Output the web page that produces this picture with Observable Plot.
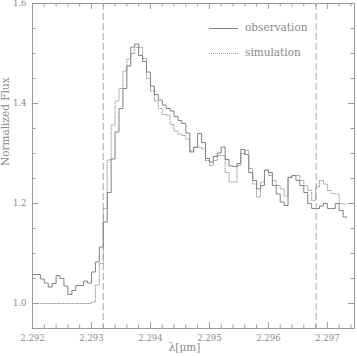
<!DOCTYPE html>
<html>
<head>
<meta charset="utf-8">
<script src="https://cdn.jsdelivr.net/npm/d3@7"></script>
<script src="https://cdn.jsdelivr.net/npm/@observablehq/plot@0.6"></script>
<style>
  html, body { margin: 0; padding: 0; background: #fff; }
  #wrap { position: relative; width: 357px; height: 356px; font-family: "DejaVu Serif", serif; color: #888; }
  .leg { position: absolute; font-size: 10.5px; line-height: 12px; white-space: nowrap; }
  .legline { position: absolute; width: 29px; height: 0; }
</style>
</head>
<body>
<div id="wrap"></div>
<script>
// Bin edges (wavelength, micron)
const lamEdges = [
  2.292000, 2.292067, 2.292133, 2.292200, 2.292267, 2.292333, 2.292400, 2.292467, 2.292533, 2.292600,
  2.292667, 2.292733, 2.292800, 2.292867, 2.292933, 2.293000, 2.293067, 2.293133, 2.293200, 2.293267,
  2.293333, 2.293400, 2.293467, 2.293533, 2.293600, 2.293667, 2.293733, 2.293800, 2.293867, 2.293933,
  2.294000, 2.294067, 2.294133, 2.294200, 2.294267, 2.294333, 2.294400, 2.294467, 2.294533, 2.294600,
  2.294667, 2.294733, 2.294800, 2.294867, 2.294933, 2.295000, 2.295067, 2.295133, 2.295200, 2.295267,
  2.295333, 2.295400, 2.295467, 2.295533, 2.295600, 2.295667, 2.295733, 2.295800, 2.295867, 2.295933,
  2.296000, 2.296067, 2.296133, 2.296200, 2.296267, 2.296333, 2.296400, 2.296467, 2.296533, 2.296600,
  2.296667, 2.296733, 2.296800, 2.296867, 2.296933, 2.297000, 2.297067, 2.297133, 2.297200, 2.297267,
  2.297333
];
// Observed normalized flux per bin
const obsFlux = [
  1.058, 1.058, 1.049, 1.041, 1.033, 1.040, 1.056, 1.050, 1.035, 1.018,
  1.026, 1.036, 1.036, 1.045, 1.041, 1.063, 1.083, 1.113, 1.163, 1.222,
  1.289, 1.343, 1.390, 1.430, 1.475, 1.513, 1.519, 1.496, 1.484, 1.463,
  1.435, 1.418, 1.407, 1.397, 1.390, 1.385, 1.374, 1.366, 1.360, 1.341,
  1.303, 1.312, 1.340, 1.322, 1.290, 1.283, 1.294, 1.301, 1.313, 1.288,
  1.275, 1.274, 1.280, 1.308, 1.298, 1.262, 1.246, 1.229, 1.236, 1.267,
  1.262, 1.236, 1.219, 1.203, 1.196, 1.252, 1.256, 1.246, 1.236, 1.222,
  1.200, 1.190, 1.190, 1.195, 1.200, 1.190, 1.190, 1.200, 1.186, 1.173
];
// Simulated normalized flux per bin
const simFlux = [
  1.000, 1.000, 1.000, 1.000, 1.000, 1.000, 1.000, 1.000, 1.000, 1.000,
  1.000, 1.000, 1.000, 1.000, 1.000, 1.003, 1.037, 1.080, 1.190, 1.287,
  1.357, 1.405, 1.430, 1.465, 1.489, 1.500, 1.512, 1.512, 1.490, 1.450,
  1.425, 1.405, 1.390, 1.378, 1.377, 1.358, 1.345, 1.339, 1.336, 1.329,
  1.305, 1.313, 1.313, 1.309, 1.286, 1.276, 1.286, 1.296, 1.296, 1.262,
  1.243, 1.243, 1.276, 1.300, 1.306, 1.270, 1.239, 1.213, 1.243, 1.266,
  1.256, 1.246, 1.236, 1.229, 1.215, 1.253, 1.256, 1.256, 1.246, 1.236,
  1.226, 1.206, 1.233, 1.246, 1.239, 1.226, 1.220, 1.219, 1.200, 1.199
];
const markerLam = [2.29320, 2.29681];
const xTicks = [2.292, 2.293, 2.294, 2.295, 2.296, 2.297];
const yTicks = [1.0, 1.2, 1.4, 1.6];
const seriesNames = ["observation", "simulation"];
const xLabel = "λ[μm]";
const yLabel = "Normalized Flux";

const W = 357, H = 356;
const mL = 32, mR = 3, mT = 3, mB = 28;
const innerW = W - mL - mR, innerH = H - mT - mB;
const xDomain = [2.292, 2.29746];
const yDomain = [0.95, 1.6];

const xMinor = d3.range(0, 28).map(i => +(2.292 + i * 0.0002).toFixed(4)).filter(v => v <= xDomain[1] && !xTicks.some(t => Math.abs(t - v) < 1e-9));
const yMinor = d3.range(0, 14).map(i => +(0.95 + i * 0.05).toFixed(2)).filter(v => !yTicks.some(t => Math.abs(t - v) < 1e-9));

const rows = vals => lamEdges.map((lam, i) => ({lam, flux: vals[Math.min(i, vals.length - 1)]}));

const axisColor = "#9a9a9a";
const majorLen = 6, minorLen = 3.5;

const chart = Plot.plot({
  width: W, height: H,
  marginLeft: mL, marginRight: mR, marginTop: mT, marginBottom: mB,
  style: {fontFamily: "DejaVu Serif", fontSize: "8.5px", color: "#8a8a8a", background: "#fff"},
  x: {domain: xDomain, label: null},
  y: {domain: yDomain, label: null},
  marks: [
    Plot.frame({stroke: axisColor}),
    // inward ticks on all four sides
    Plot.ruleX(xTicks, {stroke: axisColor, insetTop: innerH - majorLen}),
    Plot.ruleX(xTicks, {stroke: axisColor, insetBottom: innerH - majorLen}),
    Plot.ruleX(xMinor, {stroke: axisColor, insetTop: innerH - minorLen}),
    Plot.ruleX(xMinor, {stroke: axisColor, insetBottom: innerH - minorLen}),
    Plot.ruleY(yTicks, {stroke: axisColor, insetRight: innerW - majorLen}),
    Plot.ruleY(yTicks, {stroke: axisColor, insetLeft: innerW - majorLen}),
    Plot.ruleY(yMinor, {stroke: axisColor, insetRight: innerW - minorLen}),
    Plot.ruleY(yMinor, {stroke: axisColor, insetLeft: innerW - minorLen}),
    Plot.axisX({ticks: xTicks, tickSize: 0, tickPadding: 6, tickFormat: d3.format(".3f"), label: null}),
    Plot.axisY({ticks: yTicks, tickSize: 0, tickPadding: 6, tickFormat: d3.format(".1f"), label: null}),
    Plot.ruleX(markerLam, {stroke: "#a8a8a8", strokeDasharray: "7,3"}),
    Plot.line(rows(simFlux), {x: "lam", y: "flux", curve: "step-after", stroke: "#9a9a9a", strokeWidth: 1, strokeDasharray: "1,1.5"}),
    Plot.line(rows(obsFlux), {x: "lam", y: "flux", curve: "step-after", stroke: "#828282", strokeWidth: 1}),
    Plot.text([yLabel], {frameAnchor: "left", text: d => d, rotate: -90, dx: -27, fontSize: 10.5, fill: "#8a8a8a"}),
    Plot.text([xLabel], {frameAnchor: "bottom", text: d => d, dy: 22, dx: -9, fontSize: 10.5, fill: "#8a8a8a"})
  ]
});

const wrap = document.getElementById("wrap");
wrap.appendChild(chart);

// Legend (top right, inside the frame)
const legendRows = [
  {name: seriesNames[0], style: "1px solid #828282", top: 28},
  {name: seriesNames[1], style: "1px dotted #9a9a9a", top: 53}
];
legendRows.forEach(r => {
  const ln = document.createElement("div");
  ln.className = "legline";
  ln.style.left = "209px";
  ln.style.top = (r.top - 0.5) + "px";
  ln.style.borderTop = r.style;
  wrap.appendChild(ln);
  const t = document.createElement("div");
  t.className = "leg";
  t.style.left = "245px";
  t.style.top = (r.top - 7) + "px";
  t.textContent = r.name;
  wrap.appendChild(t);
});
</script>
</body>
</html>
